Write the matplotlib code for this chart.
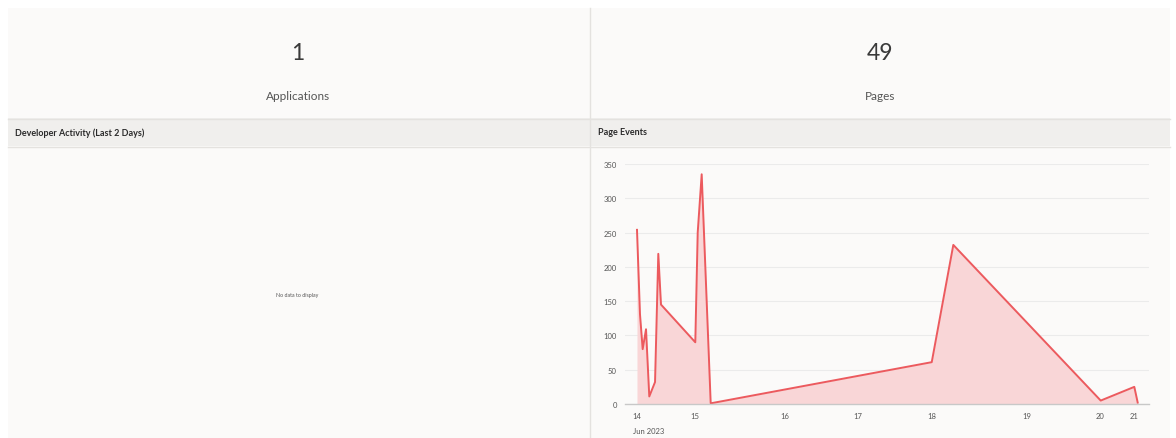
import matplotlib
matplotlib.use("Agg")
import matplotlib.pyplot as plt
from matplotlib.patches import Rectangle

plt.rcParams['font.family'] = ['Lato', 'DejaVu Sans']

# tiles
tile_values = ['1', '49']
tile_labels = ['Applications', 'Pages']
region_titles = ['Developer Activity (Last 2 Days)', 'Page Events']

# page events (x in day offsets from 14 Jun, as placed on the chart)
event_x = [0.0, 0.042, 0.080, 0.127, 0.173, 0.254, 0.300, 0.338, 0.821, 0.855,
           0.911, 1.038, 4.151, 4.455, 6.531, 7.004, 7.052]
event_y = [254, 131, 80, 109, 11, 32, 219, 145, 90, 250,
           335, 1, 61, 232, 5, 25, 2]
tick_pos = [0.0, 0.821, 2.075, 3.108, 4.151, 5.489, 6.521, 7.004]
tick_lab = ['14', '15', '16', '17', '18', '19', '20', '21']
y_ticks = [0, 50, 100, 150, 200, 250, 300, 350]

W, H = 1176, 439
fig = plt.figure(figsize=(W / 100, H / 100), dpi=100)
fig.patch.set_facecolor('white')

# background layer in pixel coordinates
bg = fig.add_axes([0, 0, 1, 1])
bg.set_xlim(0, W)
bg.set_ylim(H, 0)
bg.axis('off')

panel = '#fbfaf9'
border = '#e4e2df'
bg.add_patch(Rectangle((8, 9), 1162, 440, facecolor=panel, edgecolor='none'))
bg.add_patch(Rectangle((8, 119), 1162, 28, facecolor='#f0efed', edgecolor='none'))
bg.plot([8, 1170], [119.5, 119.5], color=border, lw=1)
bg.plot([8, 1170], [147.5, 147.5], color=border, lw=1)
bg.plot([589.5, 589.5], [9, 439], color=border, lw=1)

centers = [298, 880]
for cx, v, lab in zip(centers, tile_values, tile_labels):
    bg.text(cx, 53, v, ha='center', va='center', fontsize=16.5,
            color='#3a3a3a')
    bg.text(cx, 97, lab, ha='center', va='center', fontsize=8.5, color='#555555')

for x0, t in zip([15, 598], region_titles):
    bg.text(x0, 133, t, ha='left', va='center', fontsize=6.5,
            fontweight='bold', color='#2b2b2b')

bg.text(297, 296, 'No data to display', ha='center', va='center',
        fontsize=3.8, color='#555555')

# chart
ax = fig.add_axes([625 / W, 34 / H, 524 / W, 240 / H])
ax.set_facecolor('none')
ax.fill_between(event_x, event_y, 0, color='#f9d6d7', lw=0)
ax.plot(event_x, event_y, color='#ec5a5e', lw=1.4)
ax.set_xlim(-0.169, 7.211)
ax.set_ylim(0, 350)
ax.set_yticks(y_ticks)
ax.set_xticks(tick_pos)
ax.set_xticklabels(tick_lab)
ax.grid(axis='y', color='#ebebeb', lw=0.8)
ax.set_axisbelow(True)
for s in ['top', 'right', 'left']:
    ax.spines[s].set_visible(False)
ax.spines['bottom'].set_color('#c8c8c8')
ax.spines['bottom'].set_linewidth(1)
ax.tick_params(axis='both', length=0, labelsize=5.5, colors='#555555')
ax.tick_params(axis='y', pad=6)
ax.tick_params(axis='x', pad=6)
ax.text(-0.06, -0.095, 'Jun 2023', transform=ax.get_xaxis_transform(),
        ha='left', va='top', fontsize=5.5, color='#555555')

fig.savefig('out.png', dpi=100, facecolor='white')
